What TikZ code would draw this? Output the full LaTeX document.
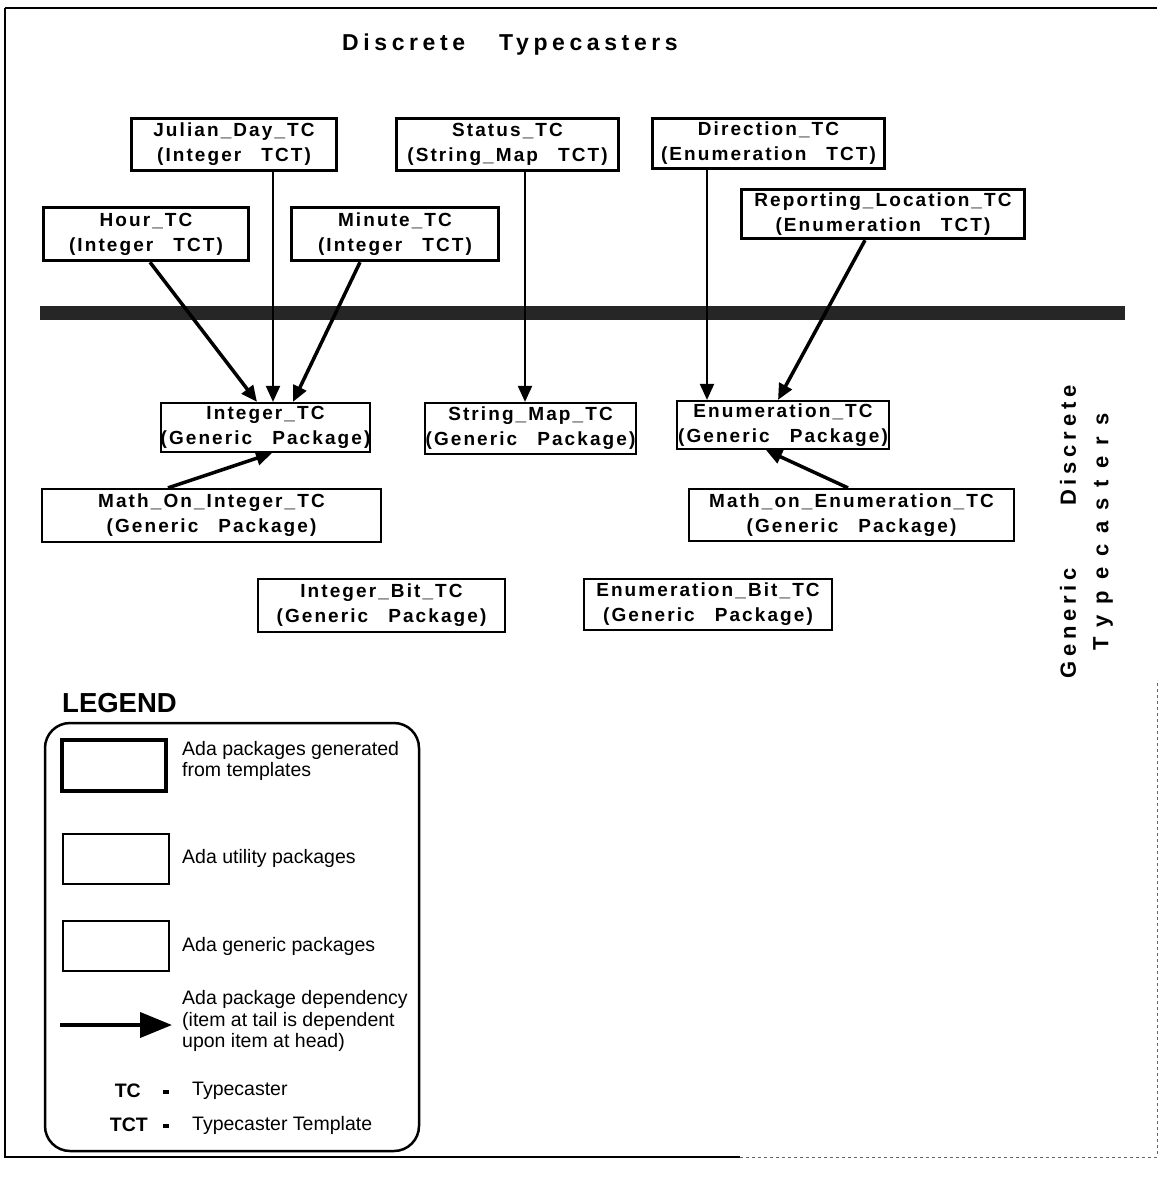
\documentclass[tikz,border=0pt]{standalone}
\usepackage{fontspec}
\setmainfont{Liberation Sans}
\newfontfamily\boxfont[LetterSpace=11]{Liberation Sans}
\newfontfamily\titlefont[LetterSpace=20]{Liberation Sans}
\newfontfamily\sidefont[LetterSpace=22]{Liberation Sans}
\newfontfamily\sidewidefont[LetterSpace=50]{Liberation Sans}
\usetikzlibrary{arrows.meta}

\begin{document}
\begin{tikzpicture}[x=1pt,y=-1pt,
  pkg/.style={draw, rectangle, inner sep=0pt, align=center,
    font=\boxfont\bfseries\fontsize{19}{25}\selectfont},
  tmpl/.style={pkg, line width=3.5pt},
  gen/.style={pkg, line width=2.2pt},
  dep/.style={-{Triangle[length=16pt,width=14pt]}, line width=2pt},
  depthick/.style={dep, line width=3.5pt},
  legtext/.style={anchor=west, align=left, inner sep=0pt,
    font=\fontsize{19.5}{21.5}\selectfont},
  legkey/.style={anchor=east, inner sep=0pt,
    font=\bfseries\fontsize{19.5}{21.5}\selectfont},
  legdash/.style={fill=black, inner sep=0pt, minimum width=6, minimum height=4},
]
\useasboundingbox (0,0) rectangle (1159,1180);

% outer frame
\draw[line width=2pt] (5,8) -- (1157,8);
\draw[line width=1.5pt] (5,8) -- (5,1157) -- (740,1157);
\draw[line width=0.8pt, black!60, dashed] (740,1157) -- (1157,1157) -- (1157,680);

% titles
\node[font=\titlefont\bfseries\fontsize{23}{27}\selectfont] (title) at (510,45)
  {Discrete\hspace{34pt}Typecasters};
\node[rotate=90, font=\sidefont\bfseries\fontsize{22}{26}\selectfont] (side1) at (1068,532)
  {Generic\hspace{62pt}Discrete};
\node[rotate=90, font=\sidewidefont\bfseries\fontsize{22}{26}\selectfont] (side2) at (1103,532)
  {Typecasters};

% template-generated packages
\node[tmpl, minimum width=205, minimum height=52] (jul) at (234,144.5)
  {Julian\_Day\_TC\\(Integer\hspace{20pt}TCT)};
\node[tmpl, minimum width=222, minimum height=52] (stat) at (507.5,144.5)
  {Status\_TC\\(String\_Map\hspace{20pt}TCT)};
\node[tmpl, minimum width=232, minimum height=50] (dir) at (768.5,143.5)
  {Direction\_TC\\(Enumeration\hspace{20pt}TCT)};
\node[tmpl, minimum width=205, minimum height=53] (hour) at (146,234)
  {Hour\_TC\\(Integer\hspace{20pt}TCT)};
\node[tmpl, minimum width=207, minimum height=53] (min) at (395,234)
  {Minute\_TC\\(Integer\hspace{20pt}TCT)};
\node[tmpl, minimum width=283, minimum height=49] (rep) at (883,214)
  {Reporting\_Location\_TC\\(Enumeration\hspace{20pt}TCT)};

% separating band
\node[fill=black!85, inner sep=0pt, minimum width=1085, minimum height=14] (band) at (582.5,312.5) {};

% generic packages
\node[gen, minimum width=187, minimum height=49] (int) at (265.5,427.5)
  {Integer\_TC\\(Generic\hspace{20pt}Package)};
\node[gen, minimum width=211, minimum height=51] (smap) at (530.5,428.5)
  {String\_Map\_TC\\(Generic\hspace{20pt}Package)};
\node[gen, minimum width=212, minimum height=48] (enum) at (783,425)
  {Enumeration\_TC\\(Generic\hspace{20pt}Package)};
\node[gen, minimum width=339, minimum height=53] (moi) at (211.5,515.5)
  {Math\_On\_Integer\_TC\\(Generic\hspace{20pt}Package)};
\node[gen, minimum width=325, minimum height=52] (moe) at (851.5,515)
  {Math\_on\_Enumeration\_TC\\(Generic\hspace{20pt}Package)};
\node[gen, minimum width=247, minimum height=53] (ibit) at (381.5,605.5)
  {Integer\_Bit\_TC\\(Generic\hspace{20pt}Package)};
\node[gen, minimum width=248, minimum height=51] (ebit) at (708,604.5)
  {Enumeration\_Bit\_TC\\(Generic\hspace{20pt}Package)};

% dependencies
\draw[depthick] ([xshift=4]hour.south) -- ([xshift=-8.5]int.north);
\draw[dep] ([xshift=39]jul.south) -- ([xshift=7.5]int.north);
\draw[depthick] ([xshift=-35]min.south) -- ([xshift=27.5]int.north);
\draw[dep] ([xshift=17.5]stat.south) -- ([xshift=-5.5]smap.north);
\draw[dep] ([xshift=-61.5]dir.south) -- ([xshift=-76]enum.north);
\draw[depthick] ([xshift=-18]rep.south) -- ([xshift=-5]enum.north);
\draw[depthick] ([xshift=-43.5]moi.north) -- ([xshift=6.5]int.south);
\draw[depthick] ([xshift=-3.5]moe.north) -- ([xshift=-17]enum.south);

% legend
\node[anchor=west, inner sep=0pt, font=\bfseries\fontsize{27.5}{31}\selectfont] (legtitle) at (62,703) {LEGEND};
\node[draw, rounded corners=25pt, line width=2.5pt, minimum width=374, minimum height=428] (legbox) at (232,937) {};
\node[draw, line width=3.5pt, minimum width=104, minimum height=51] (lg1) at (114,765.5) {};
\node[draw, line width=2.2pt, minimum width=106, minimum height=50] (lg2) at (116,859) {};
\node[draw, line width=2.2pt, minimum width=106, minimum height=50] (lg3) at (116,946) {};
\coordinate (la) at (60,1025);
\coordinate (lb) at (172,1025);
\draw[line width=4pt, -{Triangle[length=32pt,width=25pt]}] (la) -- (lb);

\node[legtext] (t1) at (182,761) {Ada packages generated\\from templates};
\node[legtext] (t2) at (182,858) {Ada utility packages};
\node[legtext] (t3) at (182,946) {Ada generic packages};
\node[legtext] (t4) at (182,1021) {Ada package dependency\\(item at tail is dependent\\upon item at head)};
\node[legkey] (k1) at (141,1091) {TC};
\node[legdash] (d1) at (166,1092) {};
\node[legtext] (v1) at (192,1091) {Typecaster};
\node[legkey] (k2) at (148,1125) {TCT};
\node[legdash] (d2) at (166,1126) {};
\node[legtext] (v2) at (192,1125) {Typecaster Template};
\end{tikzpicture}
\end{document}
